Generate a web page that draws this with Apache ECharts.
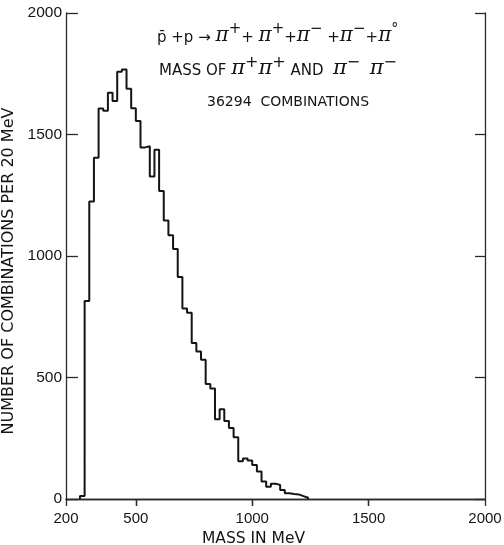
<!DOCTYPE html>
<html>
<head>
<meta charset="utf-8">
<script src="https://cdn.jsdelivr.net/npm/echarts@6/dist/echarts.min.js"></script>
<style>
  html, body { margin: 0; padding: 0; background: #fff; }
  #chart { width: 504px; height: 545px; }
</style>
</head>
<body>
<div id="chart"></div>
<script>
// Invariant mass of like-sign pion pairs, 20 MeV bins (lower bin edges in MeV)
const binWidth = 20;
const massBins = [
  260, 280, 300, 320, 340, 360, 380, 400, 420, 440,
  460, 480, 500, 520, 540, 560, 580, 600, 620, 640,
  660, 680, 700, 720, 740, 760, 780, 800, 820, 840,
  860, 880, 900, 920, 940, 960, 980, 1000, 1020, 1040,
  1060, 1080, 1100, 1120, 1140, 1160, 1180, 1200, 1220
];
const counts = [
  12, 815, 1224, 1404, 1607, 1598, 1672, 1638, 1758, 1768,
  1688, 1608, 1556, 1447, 1452, 1327, 1437, 1267, 1146, 1085,
  1029, 914, 784, 766, 642, 607, 573, 473, 455, 328,
  369, 321, 292, 254, 155, 167, 158, 140, 113, 72,
  50, 63, 58, 37, 24, 21, 19, 12, 5
];
const xTickValues = [200, 500, 1000, 1500, 2000];
const xInnerTicks = [500, 1000, 1500];

// Step outline: rise at the first edge, hold each bin, drop after the last one
const outline = [[massBins[0], 0]];
massBins.forEach((m, i) => outline.push([m, counts[i]]));
outline.push([massBins[massBins.length - 1] + binWidth, 0]);

const ink = '#141414';
const frame = { lineStyle: { color: '#2a2a2a', width: 1.3 } };
const font = 'DejaVu Sans';
const numFont = 'Liberation Sans';
const plain = v => String(v);

const chart = echarts.init(document.getElementById('chart'), null, { renderer: 'canvas' });
chart.setOption({
  backgroundColor: '#ffffff',
  animation: false,
  grid: { left: 66, right: 19, top: 13, bottom: 46, containLabel: false, outerBoundsMode: 'none' },
  xAxis: [
    {
      type: 'value', min: 200, max: 2000, position: 'bottom',
      axisLine: { show: true, ...frame },
      axisTick: { show: true, customValues: xTickValues, length: 7, inside: false, ...frame },
      axisLabel: { customValues: xTickValues, formatter: plain, fontSize: 15, color: ink, fontFamily: numFont, margin: 12 },
      splitLine: { show: false },
      name: 'MASS IN MeV', nameLocation: 'middle', nameGap: 25,
      nameTextStyle: { fontSize: 15.5, color: ink, fontFamily: font, padding: [0, 44, 0, 0] }
    },
    {
      type: 'value', min: 200, max: 2000, position: 'top',
      axisLine: { show: true, ...frame },
      axisTick: { show: true, customValues: xInnerTicks, length: 7, inside: true, ...frame },
      axisLabel: { show: false },
      splitLine: { show: false }
    }
  ],
  yAxis: [
    {
      type: 'value', min: 0, max: 2000, interval: 500, position: 'left',
      axisLine: { show: true, ...frame },
      axisTick: { show: true, inside: true, length: 12, ...frame },
      axisLabel: { formatter: plain, fontSize: 15.5, color: ink, fontFamily: numFont, margin: 4 },
      splitLine: { show: false },
      name: 'NUMBER OF COMBINATIONS PER 20 MeV', nameLocation: 'middle', nameGap: 43,
      nameTextStyle: { fontSize: 16, color: ink, fontFamily: font, padding: [0, 30, 0, 0] }
    },
    {
      type: 'value', min: 0, max: 2000, interval: 500, position: 'right',
      axisLine: { show: true, ...frame },
      axisTick: { show: true, inside: true, length: 10, ...frame },
      axisLabel: { show: false },
      splitLine: { show: false }
    }
  ],
  series: [
    {
      type: 'line',
      step: 'end',
      data: outline,
      symbol: 'none',
      lineStyle: { color: ink, width: 2 },
      silent: true
    }
  ],
  graphic: [
    {
      type: 'text', left: 157, top: 22,
      style: {
        text: '{t|p\u0304 +p }{t|\u2192 }{pi|\u03c0}{sup|+}{t|+ }{pi|\u03c0}{sup|+}{t|+}{pi|\u03c0}{sup|\u2212}{t| +}{pi|\u03c0}{sup|\u2212}{t|+}{pi|\u03c0}{deg|\u00b0}',
        rich: {
          t: { fontSize: 15, fontFamily: font, fill: ink, lineHeight: 24, verticalAlign: 'bottom' },
          pi: { fontSize: 20, fontFamily: 'DejaVu Serif', fontStyle: 'italic', fill: ink, lineHeight: 24, verticalAlign: 'bottom' },
          sup: { fontSize: 15, fontFamily: font, fill: ink, lineHeight: 20, verticalAlign: 'top' },
          deg: { fontSize: 14, fontFamily: font, fill: ink, lineHeight: 22, verticalAlign: 'top' }
        }
      }
    },
    {
      type: 'text', left: 159, top: 55,
      style: {
        text: '{t|MASS OF }{pi|\u03c0}{sup|+}{pi|\u03c0}{sup|+}{t| AND  }{pi|\u03c0}{sup|\u2212}{t|  }{pi|\u03c0}{sup|\u2212}',
        rich: {
          t: { fontSize: 15, fontFamily: font, fill: ink, lineHeight: 24, verticalAlign: 'bottom' },
          pi: { fontSize: 21, fontFamily: 'DejaVu Serif', fontStyle: 'italic', fill: ink, lineHeight: 24, verticalAlign: 'bottom' },
          sup: { fontSize: 16, fontFamily: font, fill: ink, lineHeight: 20, verticalAlign: 'top' }
        }
      }
    },
    {
      type: 'text', left: 207, top: 95,
      style: { text: '36294  COMBINATIONS', fontSize: 14, fontFamily: font, fill: ink }
    }
  ]
});
</script>
</body>
</html>
